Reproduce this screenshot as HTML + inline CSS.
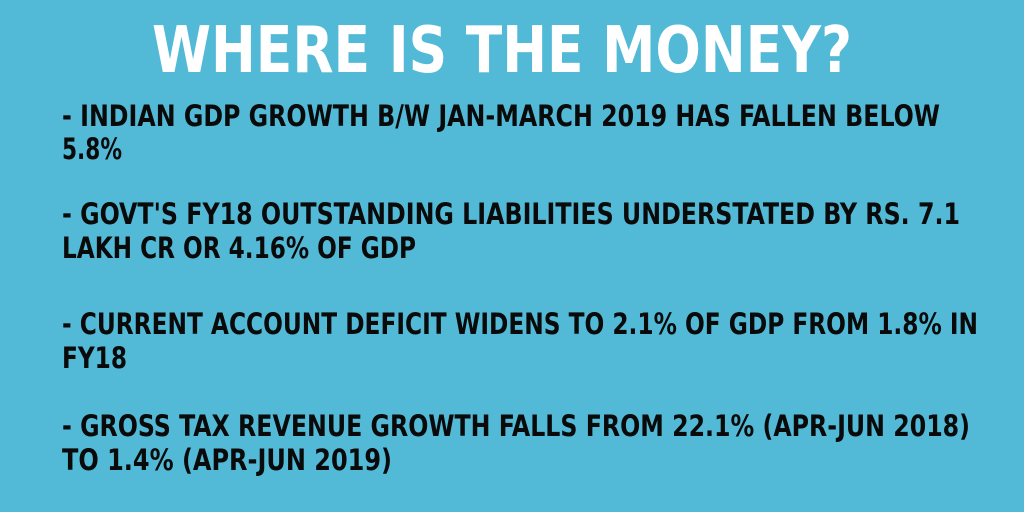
<!DOCTYPE html>
<html><head><meta charset="utf-8"><style>
html,body{margin:0;padding:0;background:#52bad7;}
svg{display:block}
text{font-family:"DejaVu Sans Condensed","DejaVu Sans","Liberation Sans",sans-serif;font-weight:bold;}
</style></head><body>
<svg width="1024" height="512" viewBox="0 0 1024 512">
<rect width="1024" height="512" fill="#52bad7"/>
<text x="152" y="72" font-size="64" fill="#ffffff" textLength="700" lengthAdjust="spacingAndGlyphs">WHERE IS THE MONEY?</text>
<g fill="#0a0a0a" font-size="29">
<text x="62" y="126" textLength="878" lengthAdjust="spacingAndGlyphs">- INDIAN GDP GROWTH B/W JAN-MARCH 2019 HAS FALLEN BELOW</text>
<text x="62" y="159" textLength="60" lengthAdjust="spacingAndGlyphs">5.8%</text>
<text x="62" y="224" textLength="898" lengthAdjust="spacingAndGlyphs">- GOVT'S FY18 OUTSTANDING LIABILITIES UNDERSTATED BY RS. 7.1</text>
<text x="62" y="258" textLength="354" lengthAdjust="spacingAndGlyphs">LAKH CR OR 4.16% OF GDP</text>
<text x="62" y="334" textLength="916" lengthAdjust="spacingAndGlyphs">- CURRENT ACCOUNT DEFICIT WIDENS TO 2.1% OF GDP FROM 1.8% IN</text>
<text x="62" y="368" textLength="65" lengthAdjust="spacingAndGlyphs">FY18</text>
<text x="62" y="436" textLength="908" lengthAdjust="spacingAndGlyphs">- GROSS TAX REVENUE GROWTH FALLS FROM 22.1% (APR-JUN 2018)</text>
<text x="62" y="470" textLength="330" lengthAdjust="spacingAndGlyphs">TO 1.4% (APR-JUN 2019)</text>
</g>
</svg>
</body></html>
